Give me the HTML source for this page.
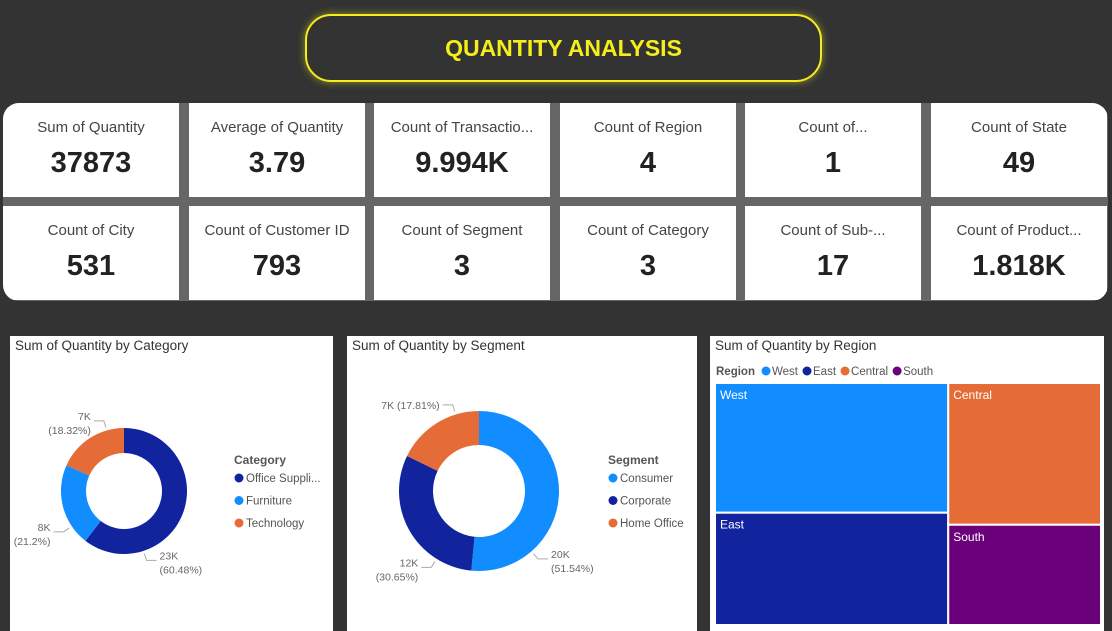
<!DOCTYPE html>
<html><head><meta charset="utf-8">
<style>
*{margin:0;padding:0;box-sizing:border-box}
body{width:1112px;height:631px;background:#333333;position:relative;overflow:hidden;font-family:"Liberation Sans","DejaVu Sans",sans-serif}
#title{position:absolute;left:305px;top:14px;width:517px;height:68px;border:2px solid #f5ee1a;border-radius:26px;box-shadow:0 0 8px rgba(245,238,26,.5);display:flex;align-items:center;justify-content:center;color:#f5ee1a;font-weight:bold;font-size:23px}
#cards{position:absolute;left:3px;top:103px;width:1105px;height:198px;background:#666;border-radius:16px;overflow:hidden}
.card{position:absolute;background:#fff;text-align:center;width:176px;height:94px}
.card .l{margin-top:16px;font-size:15px;color:#444;white-space:nowrap}
.card .v{margin-top:11px;font-size:29px;font-weight:bold;color:#222}
.panel{position:absolute;background:#fff;top:336px;height:295px}
.pt{position:absolute;left:5px;top:2px;font-size:13.5px;color:#333}
svg text{font-family:"Liberation Sans",sans-serif}
</style></head><body>
<div id="title">QUANTITY ANALYSIS</div>
<div id="cards"></div>
<div class="panel" style="left:10px;width:323px"><div class="pt">Sum of Quantity by Category</div><svg id="catsvg" width="323" height="295" style="position:absolute;left:0;top:0"></svg></div>
<div class="panel" style="left:347px;width:350px"><div class="pt">Sum of Quantity by Segment</div><svg id="segsvg" width="350" height="295" style="position:absolute;left:0;top:0"></svg></div>
<div class="panel" style="left:710px;width:394px"><div class="pt">Sum of Quantity by Region</div><svg id="regsvg" width="394" height="295" style="position:absolute;left:0;top:0"></svg></div>
<script>
const cardLabels=["Sum of Quantity","Average of Quantity","Count of Transactio...","Count of Region","Count of...","Count of State","Count of City","Count of Customer ID","Count of Segment","Count of Category","Count of Sub-...","Count of Product..."];
const cardValues=["37873","3.79","9.994K","4","1","49","531","793","3","3","17","1.818K"];
const catNames=["Office Suppli...","Furniture","Technology"];
const catValues=[22906,8028,6939];
const catColors=["#12239e","#118dff","#e66c37"];
const segNames=["Consumer","Corporate","Home Office"];
const segValues=[19521,11608,6744];
const segColors=["#118dff","#12239e","#e66c37"];
const regNames=["West","East","Central","South"];
const regValues=[12266,10618,8780,6209];
const regColors=["#118dff","#12239e","#e66c37","#6b007b"];
const catLabelAngles=[162,236,344];
const segLabelAngles=[139,212,343];
const NS="http://www.w3.org/2000/svg";
function mk(p,t,a){const e=document.createElementNS(NS,t);for(const k in a)e.setAttribute(k,a[k]);p.appendChild(e);return e;}
const cards=document.getElementById('cards');
cardLabels.forEach((l,i)=>{const r=Math.floor(i/6),c=i%6;const d=document.createElement('div');d.className='card';d.style.left=Math.round(c*185.6)+'px';d.style.top=(r*103)+'px';


d.innerHTML='<div class="l">'+l+'</div><div class="v">'+cardValues[i]+'</div>';cards.appendChild(d);});
function fmtK(v){return Math.round(v/1000)+'K';}
function donut(svg,vals,names,cols,cx,cy,R,r,title,lx,labelPos,lAng){
 const tot=vals.reduce((a,b)=>a+b,0);let a0=0;
 const p=(a,rad)=>[cx+rad*Math.sin(a),cy-rad*Math.cos(a)];
 vals.forEach((v,i)=>{const a1=a0+v/tot*2*Math.PI;
  const lg=(a1-a0)>Math.PI?1:0;
  const [x1,y1]=p(a0,R),[x2,y2]=p(a1,R),[x3,y3]=p(a1,r),[x4,y4]=p(a0,r);
  const e=mk(svg,'path',{d:`M${x1},${y1}A${R},${R} 0 ${lg} 1 ${x2},${y2}L${x3},${y3}A${r},${r} 0 ${lg} 0 ${x4},${y4}Z`,fill:cols[i]});
  
  
  const am=lAng[i]*Math.PI/180;const [ex,ey]=p(am,R+3);const [ox,oy]=p(am,R+10);const right=Math.sin(am)>0;
  const hx=ox+(right?10:-10);
  mk(svg,'polyline',{points:`${ex},${ey} ${ox},${oy} ${hx},${oy}`,fill:'none',stroke:'#aaa','stroke-width':1});
  const pct=(v/tot*100).toFixed(2).replace(/0$/,'').replace(/\.$/,'')+'%';
  const tx=hx+(right?3:-3),anchor=right?'start':'end';
  if(labelPos[i]==='one'){const t=mk(svg,'text',{x:tx,y:oy+4,'font-size':10.5,fill:'#666','text-anchor':anchor});t.textContent=fmtK(v)+' ('+pct+')';}
  else{const t=mk(svg,'text',{x:tx,y:oy-1,'font-size':10.5,fill:'#666','text-anchor':anchor});t.textContent=fmtK(v);const t2=mk(svg,'text',{x:tx,y:oy+13,'font-size':10.5,fill:'#666','text-anchor':anchor});t2.textContent='('+pct+')';}
  a0=a1;});
 const lt=mk(svg,'text',{x:lx,y:128,'font-size':12,'font-weight':'bold',fill:'#555'});lt.textContent=title;
 names.forEach((n,i)=>{mk(svg,'circle',{cx:lx+5,cy:142+i*22.5,r:4.5,fill:cols[i]});const t=mk(svg,'text',{x:lx+12,y:146+i*22.5,'font-size':11.5,fill:'#555'});t.textContent=n;
  
  });
}
donut(document.getElementById('catsvg'),catValues,catNames,catColors,114,155,63,38,'Category',224,['two','two','two'],catLabelAngles);
donut(document.getElementById('segsvg'),segValues,segNames,segColors,132,155,80,46,'Segment',261,['two','two','one'],segLabelAngles);
// treemap
const reg=document.getElementById('regsvg');
const rl=mk(reg,'text',{x:6,y:39,'font-size':11.5,'font-weight':'bold',fill:'#555'});rl.textContent='Region';
let lxx=51;regNames.forEach((n,i)=>{mk(reg,'circle',{cx:lxx+5,cy:35,r:4.5,fill:regColors[i]});const t=mk(reg,'text',{x:lxx+11,y:39,'font-size':11.5,fill:'#555'});t.textContent=n;
 
 
 lxx+=11+t.getComputedTextLength()+4;});
const X0=5,Y0=47,W=386,H=242,tot=regValues.reduce((a,b)=>a+b,0);
const lw=W*(regValues[0]+regValues[1])/tot;
const wh=H*regValues[0]/(regValues[0]+regValues[1]);
const ch=H*regValues[2]/(regValues[2]+regValues[3]);
const rects=[[X0,Y0,lw,wh],[X0,Y0+wh,lw,H-wh],[X0+lw,Y0,W-lw,ch],[X0+lw,Y0+ch,W-lw,H-ch]];
rects.forEach((r,i)=>{const e=mk(reg,'rect',{x:r[0],y:r[1],width:r[2],height:r[3],fill:regColors[i],stroke:'#fff','stroke-width':2});
 
 
 const t=mk(reg,'text',{x:r[0]+5,y:r[1]+16,'font-size':12,fill:'#fff'});t.textContent=regNames[i];});
</script>
</body></html>
